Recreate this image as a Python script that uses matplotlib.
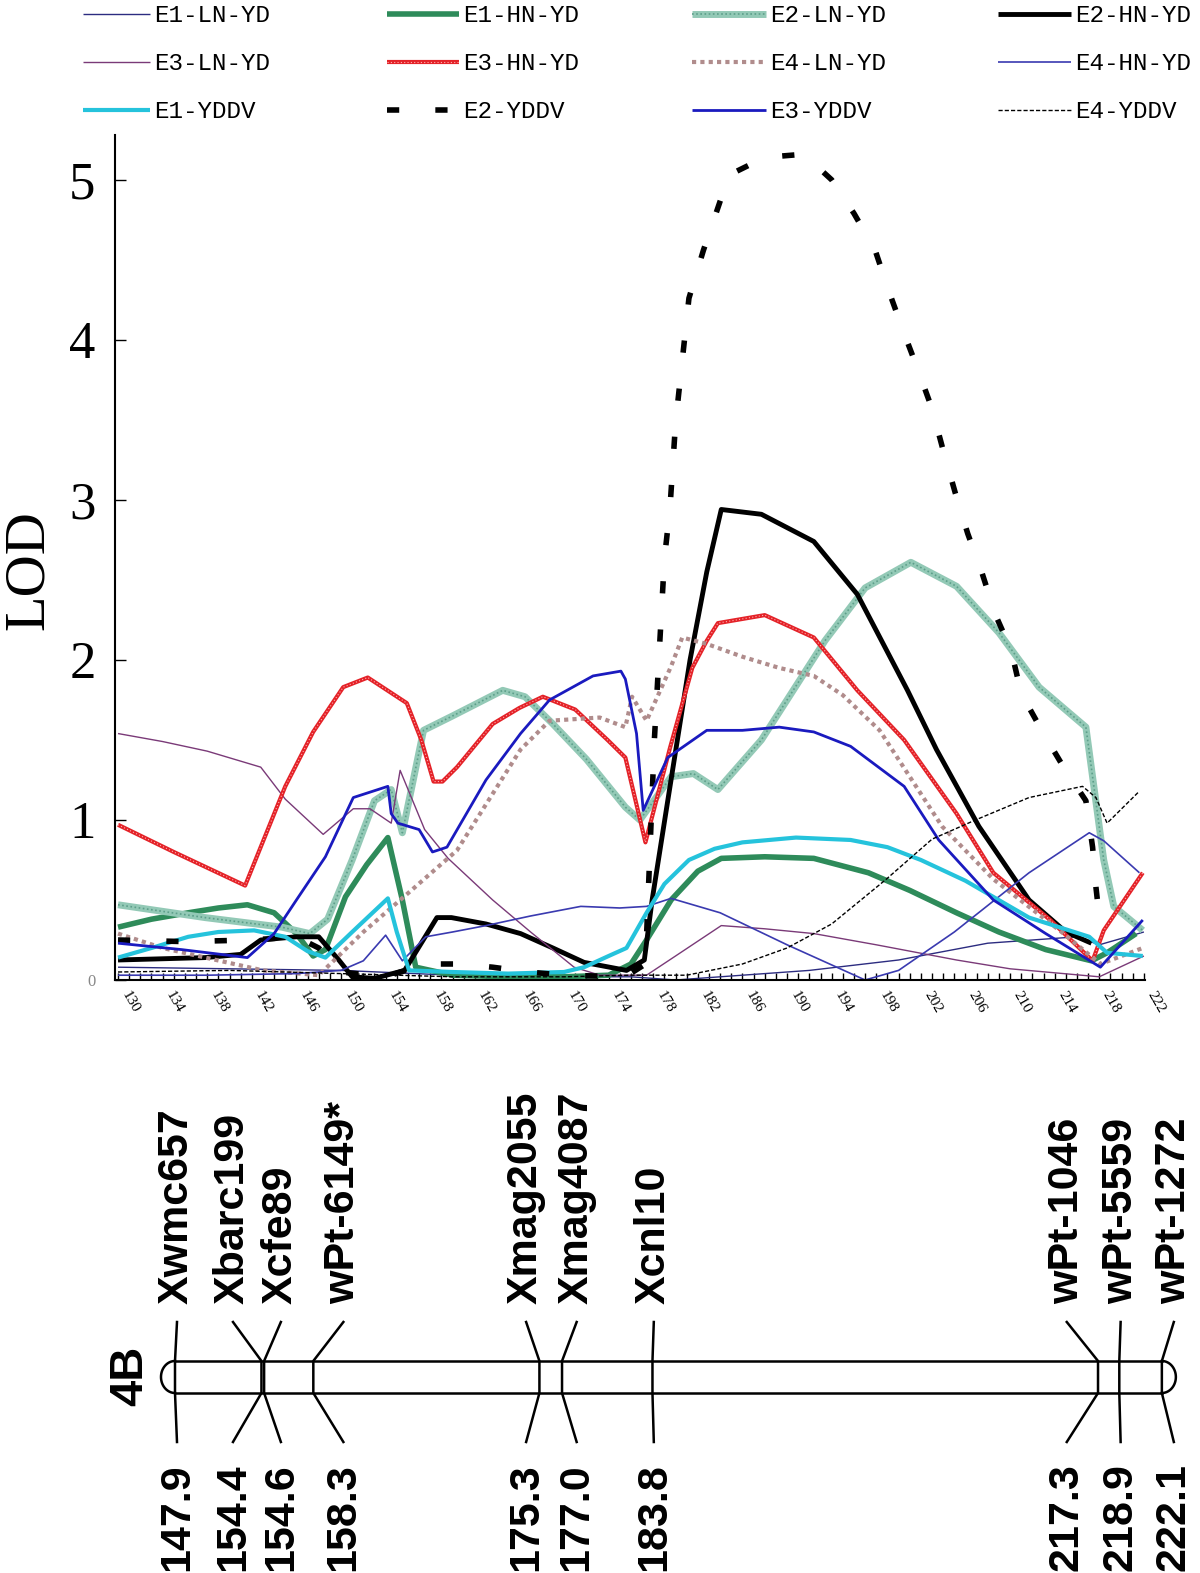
import numpy as np
import matplotlib.pyplot as plt
from matplotlib.ticker import MultipleLocator
from matplotlib.transforms import ScaledTranslation

# ---- LOD profiles along chromosome 4B (position in cM, LOD) ----
e1_ln_yd_x = [130, 140, 150, 160, 170, 176, 180, 186, 192, 200, 208, 216, 218, 222]
e1_ln_yd_y = [0.08, 0.07, 0.06, 0.03, 0.02, 0.02, 0.0, 0.03, 0.06, 0.125, 0.23, 0.27, 0.22, 0.3]

e1_hn_yd_x = [130, 133, 136.3, 139, 141.6, 144, 146, 147.5, 148.6, 150.4, 152.3, 154.2, 155.5, 156.7,
              160, 165, 170, 174, 176, 177.4, 179.6, 182, 184.1, 188, 192.4, 197.3, 201, 205.2,
              209, 213.2, 217.3, 218.7, 221.3]
e1_hn_yd_y = [0.33, 0.38, 0.42, 0.45, 0.47, 0.42, 0.29, 0.15, 0.19, 0.52, 0.72, 0.89, 0.5, 0.08,
              0.03, 0.02, 0.02, 0.03, 0.1, 0.25, 0.5, 0.68, 0.76, 0.77, 0.76, 0.67, 0.56, 0.42,
              0.3, 0.19, 0.12, 0.17, 0.29]

e2_ln_yd_x = [130, 137.8, 144.7, 147.2, 148.8, 151, 153, 154.5, 155.5, 157.4, 160, 164.5, 166.5,
              169, 172, 175.5, 176.8, 179.6, 181.6, 183.8, 187.7, 190, 193.4, 197, 201.1, 205.2,
              209, 212.6, 216.8, 218.4, 219.3, 221.9]
e2_ln_yd_y = [0.47, 0.39, 0.33, 0.29, 0.38, 0.75, 1.12, 1.19, 0.92, 1.56, 1.65, 1.81, 1.77,
              1.6, 1.38, 1.08, 1.0, 1.27, 1.29, 1.19, 1.5, 1.75, 2.12, 2.45, 2.61, 2.46,
              2.17, 1.83, 1.58, 0.75, 0.46, 0.31]

e2_hn_yd_x = [130, 137.8, 141, 142.8, 146, 148, 149.8, 151, 153, 155.7, 158.6, 159.9, 163, 166.1,
              169, 171.8, 175.6, 177.2, 177.9, 179.3, 181.3, 182.8, 184.1, 187.7, 192.4, 196.3,
              200.8, 203.4, 207.2, 211.7, 215, 217.3]
e2_hn_yd_y = [0.125, 0.14, 0.16, 0.25, 0.27, 0.27, 0.125, 0.02, 0.01, 0.06, 0.39, 0.39, 0.35, 0.29,
              0.2, 0.11, 0.06, 0.125, 0.5, 1.12, 2.0, 2.55, 2.94, 2.91, 2.74, 2.41,
              1.81, 1.44, 0.96, 0.5, 0.3, 0.23]

e3_ln_yd_x = [130, 134, 138, 142.8, 145, 148.4, 151.1, 152.6, 154.5, 155.3, 157.5, 159.6, 163.6,
              167, 170.9, 173.2, 177.4, 180, 184.1, 188, 192.4, 198, 205.2, 210, 214.8, 218, 222]
e3_ln_yd_y = [1.54, 1.49, 1.43, 1.33, 1.13, 0.91, 1.07, 1.07, 0.98, 1.31, 0.94, 0.76, 0.5,
              0.3, 0.08, 0.03, 0.03, 0.15, 0.34, 0.32, 0.29, 0.22, 0.125, 0.07, 0.04, 0.02, 0.15]

e3_hn_yd_x = [130, 135, 141.4, 145, 147.5, 150.2, 152.4, 155.9, 157.2, 158.3, 159.1, 160.4, 163.6,
              166, 168.1, 171, 173.9, 175.5, 177.3, 179.5, 181.5, 182.8, 183.8, 188, 192.4, 196.3,
              200.5, 205.2, 208.5, 213.6, 217.4, 218.4, 221.9]
e3_hn_yd_y = [0.97, 0.8, 0.59, 1.21, 1.55, 1.83, 1.89, 1.73, 1.5, 1.24, 1.24, 1.33, 1.6,
              1.7, 1.77, 1.69, 1.5, 1.39, 0.86, 1.45, 1.95, 2.12, 2.23, 2.28, 2.14, 1.81,
              1.5, 1.04, 0.67, 0.375, 0.12, 0.31, 0.67]

e4_ln_yd_x = [130, 134, 138.8, 143, 148, 152, 156.3, 160.4, 166.1, 168.7, 173.2, 175.5, 176.1,
              177.4, 179.6, 180.6, 182.8, 186, 189.3, 192.4, 195, 198.3, 203.9, 208.5, 214.8,
              218.1, 221.9]
e4_ln_yd_y = [0.29, 0.2, 0.125, 0.06, 0.03, 0.3, 0.56, 0.81, 1.44, 1.62, 1.64, 1.58, 1.77,
              1.62, 1.96, 2.14, 2.1, 2.02, 1.95, 1.9, 1.78, 1.56, 0.96, 0.63, 0.29,
              0.1, 0.2]

e4_hn_yd_x = [130, 138, 146, 150, 152, 154, 155.5, 157.6, 160, 163, 167, 171.5, 175, 177.4, 179.6,
              184, 190, 197, 200, 205, 211.7, 217.1, 218.4, 221.6]
e4_hn_yd_y = [0.03, 0.03, 0.04, 0.06, 0.12, 0.28, 0.12, 0.27, 0.3, 0.34, 0.4, 0.46, 0.45, 0.46, 0.51,
              0.42, 0.22, 0.0, 0.06, 0.3, 0.67, 0.92, 0.87, 0.67]

e1_yddv_x = [130, 133, 136.3, 139, 142.2, 145, 147, 148.6, 151, 154.2, 155, 156.1, 160, 165, 170,
             171.8, 174, 175.6, 177.4, 179, 181.2, 183.5, 186, 190.8, 195.7, 199, 202, 206,
             211.7, 217.1, 218.7, 221.9]
e1_yddv_y = [0.14, 0.2, 0.27, 0.3, 0.31, 0.27, 0.18, 0.14, 0.3, 0.51, 0.3, 0.06, 0.05, 0.04, 0.05,
             0.08, 0.15, 0.2, 0.42, 0.6, 0.75, 0.82, 0.86, 0.89, 0.875, 0.83, 0.75, 0.62,
             0.39, 0.27, 0.17, 0.15]

e2_yddv_x = [130, 136, 142, 146, 148, 150, 154, 157.6, 160.5, 163.6, 166.8, 170, 175.5, 177.3,
             177.7, 178.1, 179, 179.5, 180, 181.2, 182.5, 184.8, 188, 191.5, 194, 196, 197.9,
             199.1, 200.5, 201.7, 203, 204, 205.1, 206.2, 207.5, 208.7, 210.1, 211, 213, 214.8,
             216.8, 217.4, 217.7, 218.1]
e2_yddv_y = [0.25, 0.24, 0.25, 0.27, 0.2, 0.05, 0.02, 0.1, 0.1, 0.08, 0.05, 0.03, 0.02, 0.1,
             0.8, 1.5, 2.63, 2.95, 3.48, 4.26, 4.56, 5.03, 5.14, 5.16, 5.0, 4.79, 4.56,
             4.31, 4.04, 3.82, 3.57, 3.31, 3.04, 2.79, 2.54, 2.28, 2.06, 1.79, 1.54, 1.33,
             1.12, 0.83, 0.58, 0.33]

e3_yddv_x = [130, 135.7, 141.6, 144, 146, 148.6, 151.1, 154.2, 154.5, 155.1, 157, 158.2, 159.5,
             163, 166.1, 168.7, 172.6, 175.1, 175.5, 176.5, 177.1, 179.3, 182.8, 186, 189.3,
             192.4, 195.7, 200.5, 203.6, 208.5, 213.2, 218.1, 221.9]
e3_yddv_y = [0.23, 0.19, 0.14, 0.29, 0.5, 0.77, 1.14, 1.21, 1.04, 0.98, 0.94, 0.8, 0.83,
             1.25, 1.54, 1.75, 1.9, 1.93, 1.88, 1.54, 1.06, 1.39, 1.56, 1.56, 1.58,
             1.55, 1.46, 1.21, 0.875, 0.5, 0.29, 0.08, 0.375]

e4_yddv_x = [130, 140, 150, 160, 170, 176, 181, 186, 190, 194, 198.9, 203, 206.9, 211.7, 216.5,
             217.7, 218.7, 221.6]
e4_yddv_y = [0.05, 0.06, 0.04, 0.02, 0.02, 0.03, 0.03, 0.1, 0.2, 0.35, 0.63, 0.88, 1.0, 1.14, 1.21,
             1.14, 0.98, 1.18]

# ---- linkage map of 4B ----
marker_names = ['Xwmc657', 'Xbarc199', 'Xcfe89', 'wPt-6149*', 'Xmag2055', 'Xmag4087',
                'Xcnl10', 'wPt-1046', 'wPt-5559', 'wPt-1272']
marker_pos = [147.9, 154.4, 154.6, 158.3, 175.3, 177.0, 183.8, 217.3, 218.9, 222.1]
# where each label sits (cM scale of the map), spread apart where markers crowd
label_x = [148.05, 152.26, 155.86, 160.56, 174.3, 178.1, 183.9, 214.95, 219.0, 223.0]

x_ticks = list(range(130, 223, 4))
y_ticks = [0, 1, 2, 3, 4, 5]

# line styles: (label, x, y, [line kwargs, ...])
series = [
    ('E1-LN-YD', e1_ln_yd_x, e1_ln_yd_y, [dict(color='#2c2c80', lw=1.0)]),
    ('E1-HN-YD', e1_hn_yd_x, e1_hn_yd_y, [dict(color='#2e8b5a', lw=4.0)]),
    ('E2-LN-YD', e2_ln_yd_x, e2_ln_yd_y, [dict(color='#93c9b6', lw=5.0),
                                          dict(color='#5d9f8a', lw=1.2, ls=(0, (1, 1.5)))]),
    ('E2-HN-YD', e2_hn_yd_x, e2_hn_yd_y, [dict(color='black', lw=3.5)]),
    ('E3-LN-YD', e3_ln_yd_x, e3_ln_yd_y, [dict(color='#7a3a78', lw=1.0)]),
    ('E3-HN-YD', e3_hn_yd_x, e3_hn_yd_y, [dict(color='#e42228', lw=3.0),
                                          dict(color='#ffb0b0', lw=0.8, ls=(0, (1, 2)))]),
    ('E4-LN-YD', e4_ln_yd_x, e4_ln_yd_y, [dict(color='#b08c8c', lw=3.0, ls=(0, (1, 1)))]),
    ('E4-HN-YD', e4_hn_yd_x, e4_hn_yd_y, [dict(color='#3a3ab0', lw=1.2)]),
    ('E1-YDDV', e1_yddv_x, e1_yddv_y, [dict(color='#25c3dc', lw=3.0)]),
    ('E2-YDDV', e2_yddv_x, e2_yddv_y, [dict(color='black', lw=4.0, ls=(0, (2.2, 6.5)))]),
    ('E3-YDDV', e3_yddv_x, e3_yddv_y, [dict(color='#1a1abf', lw=2.0)]),
    ('E4-YDDV', e4_yddv_x, e4_yddv_y, [dict(color='black', lw=1.0, ls=(0, (3, 1.5)))]),
]

W, H = 1200, 1573
fig = plt.figure(figsize=(W / 100, H / 100), dpi=100)

# ---- LOD plot ----
ax = fig.add_axes([115 / W, 1 - 980 / H, 1030 / W, 845 / H])
for name, xs, ys, styles in series:
    for st in styles:
        ax.plot(xs, ys, solid_capstyle='butt', dash_capstyle='butt', **st)

ax.set_xlim(129.73, 222.1)
ax.set_ylim(0, 5.28)
ax.spines['top'].set_visible(False)
ax.spines['right'].set_visible(False)
for s in ('left', 'bottom'):
    ax.spines[s].set_linewidth(1.5)

ax.set_xticks(x_ticks)
ax.xaxis.set_minor_locator(MultipleLocator(1))
ax.tick_params(axis='x', which='both', direction='in', length=5, width=1, top=False)
ax.set_xticklabels([str(t) for t in x_ticks], rotation=-60, fontsize=11,
                   family='Liberation Serif', ha='center', va='top')
off = ScaledTranslation(12 / 100, -4 / 100, fig.dpi_scale_trans)
for lab in ax.get_xticklabels():
    lab.set_transform(lab.get_transform() + off)

ax.set_yticks(y_ticks)
ax.set_yticklabels([str(t) for t in y_ticks], fontsize=38, family='Liberation Serif')
ax.tick_params(axis='y', direction='in', length=8, width=1, pad=14, right=False)
zero = ax.get_yticklabels()[0]
zero.set_fontsize(12)
zero.set_color('#888888')

ax.set_ylabel('LOD', fontsize=42, family='Liberation Serif')
ax.yaxis.set_label_coords(-0.058, 0.485)

# ---- legend (3 rows x 4 columns, row-wise order) ----
lax = fig.add_axes([0, 0, 1, 1])
lax.set_xlim(0, W)
lax.set_ylim(H, 0)
lax.axis('off')
col_line = [(83, 150), (387, 459), (692, 766), (998, 1071)]
row_y = [14, 62, 110]
for i, (name, xs, ys, styles) in enumerate(series):
    r, c = divmod(i, 4)
    x0, x1 = col_line[c]
    for st in styles:
        lax.plot([x0, x1], [row_y[r], row_y[r]], solid_capstyle='butt', **st)
    lax.text(x1 + 4, row_y[r] + 1, name, fontsize=17.5, family='Liberation Mono',
             ha='left', va='center')

# ---- linkage map ----
px_per_cm = 13.3
cax = fig.add_axes([0, 0, 1, (H - 1060) / H])
cax.set_xlim(147.9 - 175 / px_per_cm, 147.9 + (W - 175) / px_per_cm)
cax.set_ylim(H, 1060)
cax.axis('off')

bar_top, bar_bot = 1361, 1393
lw_map = 1.8
left_end, right_end = marker_pos[0], marker_pos[-1]
cax.plot([left_end, right_end], [bar_top, bar_top], color='black', lw=lw_map)
cax.plot([left_end, right_end], [bar_bot, bar_bot], color='black', lw=lw_map)
t = np.linspace(-np.pi / 2, np.pi / 2, 60)
rx = 14 / px_per_cm
ry = (bar_bot - bar_top) / 2
yc = (bar_top + bar_bot) / 2
cax.plot(left_end - rx * np.cos(t), yc + ry * np.sin(t), color='black', lw=lw_map)
cax.plot(right_end + rx * np.cos(t), yc + ry * np.sin(t), color='black', lw=lw_map)

for name, pos, lx in zip(marker_names, marker_pos, label_x):
    cax.plot([lx, pos, pos, lx], [1322, bar_top, bar_bot, 1442], color='black', lw=lw_map)
    cax.text(lx, 1304, name, rotation=90, rotation_mode='anchor', ha='left', va='center',
             fontsize=31, fontweight='bold', family='Liberation Sans')
    cax.text(lx, 1571, f'{pos:.1f}', rotation=90, rotation_mode='anchor', ha='left',
             va='center', fontsize=31, fontweight='bold', family='Liberation Sans')

cax.text(147.9 - 45 / px_per_cm, 1376, '4B', rotation=90, rotation_mode='anchor',
         ha='center', va='center', fontsize=34, fontweight='bold', family='Liberation Sans')

fig.savefig('out.png', dpi=100)
